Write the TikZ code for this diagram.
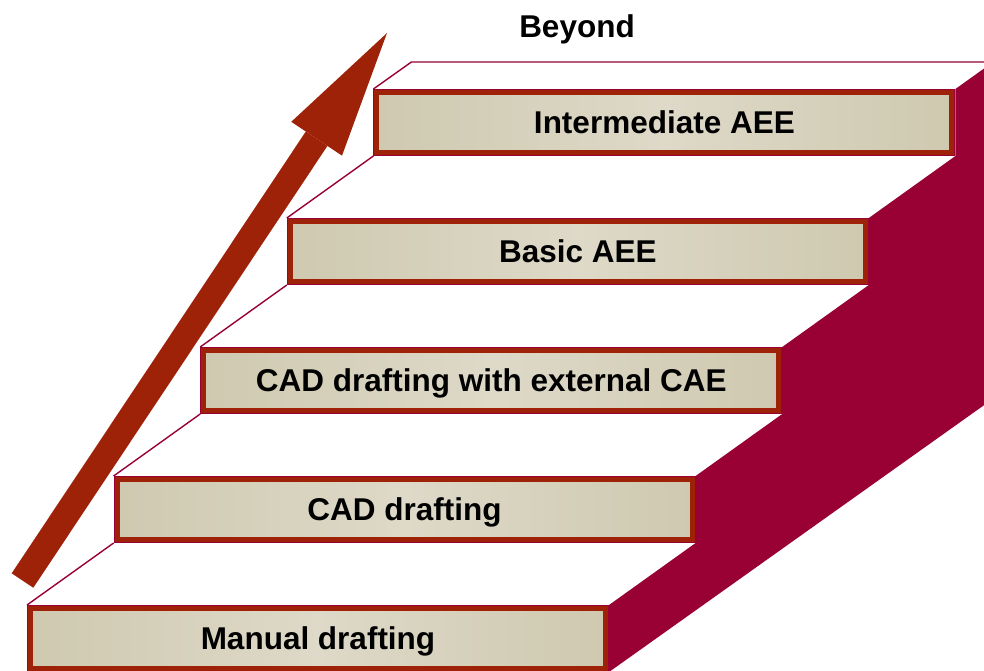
\documentclass[tikz,border=0pt]{standalone}
\usepackage{fontspec}
\setmainfont{Liberation Sans}
\usetikzlibrary{arrows.meta}
\definecolor{stepside}{RGB}{153,0,51}
\definecolor{stepedge}{RGB}{158,34,8}
\definecolor{stepface}{RGB}{207,201,176}
\definecolor{stepglow}{RGB}{222,217,200}
\tikzset{stepbox/.style={rectangle,draw=stepedge,line width=5pt,
  preaction={draw=stepside,line width=7pt},
  left color=stepface,right color=stepface,middle color=stepglow,
  minimum width=575pt,minimum height=60pt,inner sep=0pt,outer sep=3.5pt,
  text height=22pt,text depth=0pt},
 tread/.style={stepside,line width=1.4pt},
 bigarrow/.style={stepedge,line width=26pt,-{Triangle[length=127pt,width=61pt,line width=0pt]}},
 every node/.style={font=\bfseries\fontsize{31.5}{36}\selectfont}}
\begin{document}
\begin{tikzpicture}[x=1pt,y=-1pt]
\clip (0,0) rectangle (984,670);
\foreach \i/\txt in {1/Manual drafting,2/CAD drafting,3/CAD drafting with external CAE,4/Basic AEE,5/Intermediate AEE}
  \node[stepbox,anchor=north west] (s\i) at ({27+86.6*(\i-1)},{605-129*(\i-1)}) {\txt};
\foreach \i [count=\j from 2] in {1,...,4} \draw[tread] (s\i.north west) -- (s\j.south west);
\draw[tread] (s5.north west) -- ++(38,-27) -- ++(700,0);
\path (s1.south east) ++(520,-370) coordinate (sidelow)
  (s5.north east) ++(86.6,-62) coordinate (sidetop);
\fill[stepside] (s1.south east) -- (sidelow) -- (sidetop) -- (s5.north east) -- (s5.south east)
  -- (s4.north east) -- (s4.south east) -- (s3.north east) -- (s3.south east)
  -- (s2.north east) -- (s2.south east) -- (s1.north east) -- cycle;
\coordinate (tail) at (22.5,580.5);
\coordinate (tip) at (387,33);
\draw[bigarrow] (tail) -- (tip);
\node[anchor=base] (beyond) at (577,37) {Beyond};
\end{tikzpicture}
\end{document}
